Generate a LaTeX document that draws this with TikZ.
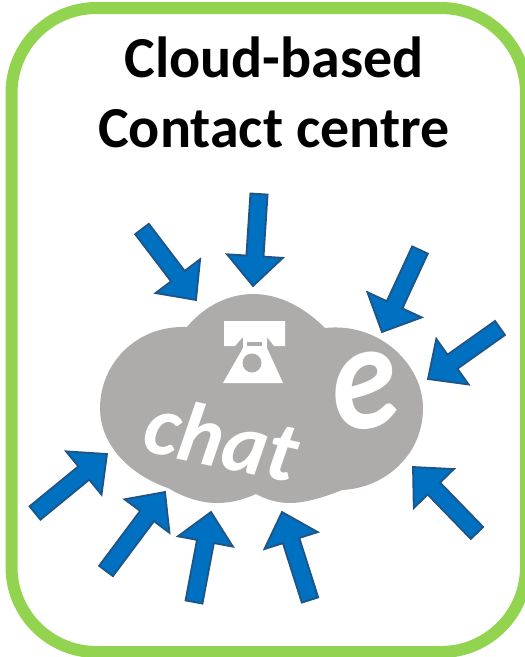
\documentclass[tikz,border=0pt]{standalone}
\usepackage{fontspec}
\setmainfont{Carlito}
\usetikzlibrary{calc}
\definecolor{framegreen}{HTML}{92D350}
\definecolor{cloudgrey}{HTML}{AEABAB}
\definecolor{arrowblue}{HTML}{0070C0}
\definecolor{arrowedge}{HTML}{1F5486}
\tikzset{
  x=1pt,y=-1pt,
  frame/.style={draw=framegreen,line width=12pt,rounded corners=85pt},
  blockarrow/.style={fill=arrowblue,draw=arrowedge,line width=1.8pt,line join=miter},
  title/.style={font=\bfseries\fontsize{58}{70}\selectfont,align=center,text=black},
  cloudtext/.style={text=white,font=\bfseries\itshape,inner sep=0pt},
}
\newcommand{\blockarr}[4]{%
  \coordinate (t) at (#1);\coordinate (p) at (#2);
  \coordinate (j) at ($(p)!#3pt!(t)$);
  \draw[blockarrow] (p) -- ($(j)!#4pt!90:(p)$) -- ($(j)!8.6pt!90:(p)$) -- ($(t)!8.6pt!90:(p)$)
    -- ($(t)!8.6pt!-90:(p)$) -- ($(j)!8.6pt!-90:(p)$) -- ($(j)!#4pt!-90:(p)$) -- cycle;}
\begin{document}
\begin{tikzpicture}
\useasboundingbox (0,0) rectangle (525,657);
\fill[white] (0,0) rectangle (525,657);
\draw[frame] (11.5,8) rectangle (526,652);
\node[title] (heading) at (274,92) {Cloud-based\\Contact centre};
\fill[cloudgrey] (187,327) .. controls (205,305) and (230,294) .. (253,294)
  .. controls (280,294) and (305,308) .. (325,328)
  .. controls (380,322) and (423,365) .. (423,408)
  .. controls (423,455) and (385,488) .. (342,490)
  .. controls (325,497) and (305,503) .. (290,503)
  .. controls (277,503) and (265,499) .. (256,494)
  .. controls (245,499) and (232,503) .. (217,503)
  .. controls (200,503) and (183,497) .. (168,488)
  .. controls (130,475) and (100,445) .. (100,408)
  .. controls (100,365) and (135,325) .. (187,327) -- cycle;
\fill[white] (224,321) -- (285,321) -- (285,346) -- (274,346) -- (267,337) -- (267,348)
  -- (283,383) -- (223,383) -- (243,348) -- (243,337) -- (235,346) -- (224,346) -- cycle;
\fill[cloudgrey] (247,342) rectangle (262,346);
\fill[cloudgrey] (252,363) circle (9.5);
\node[cloudtext,rotate=-12,font=\bfseries\itshape\fontsize{85}{85}\selectfont] (chat) at (222,438) {chat};
\node[cloudtext,rotate=8,xscale=.88,font=\bfseries\itshape\fontsize{153}{153}\selectfont] (email) at (365,391) {e};
\blockarr{142,229}{196,300}{30}{28}
\blockarr{259,194}{253,286}{30}{28}
\blockarr{420,250}{382,332}{30}{30}
\blockarr{500,328}{428,379}{30}{28}
\blockarr{477,533}{413,467}{30}{28}
\blockarr{35,513}{107,454}{30}{28}
\blockarr{106,571}{165,492}{30}{28}
\blockarr{194,602}{211,512}{30}{28}
\blockarr{310,600}{282,512}{30}{28}
\end{tikzpicture}
\end{document}
